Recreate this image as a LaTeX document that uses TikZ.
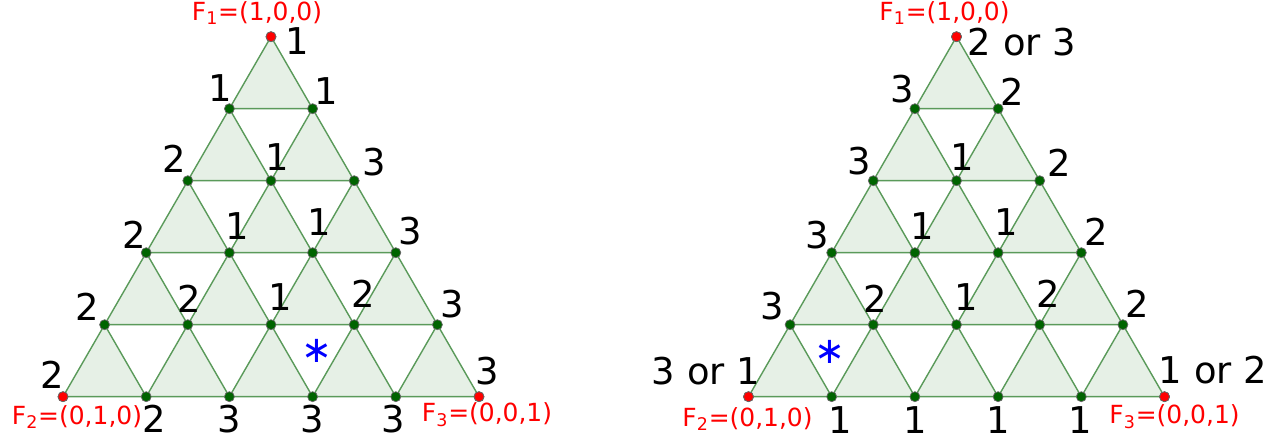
\documentclass[tikz,border=0pt]{standalone}
\usepackage{fontspec}
\setmainfont{DejaVu Sans}
\usepackage{tikz}
\usetikzlibrary{calc}
\definecolor{edgec}{HTML}{5A9A5A}
\definecolor{facec}{HTML}{E6F0E6}
\definecolor{nodec}{HTML}{006400}
\definecolor{footc}{HTML}{FF0000}
\definecolor{starc}{HTML}{0000FF}
\tikzset{
  tri/.style={draw=edgec,fill=facec,line width=0.8pt,line join=round},
  gdot/.style={fill=nodec,draw=black!60,line width=0.4pt},
  rdot/.style={fill=footc,draw=black!60,line width=0.4pt},
  num/.style={font=\fontsize{21}{24}\selectfont,inner sep=0pt},
  foot/.style={font=\fontsize{14.2}{16}\selectfont,text=footc,inner sep=0pt},
  mk/.style={font=\fontsize{21}{24}\selectfont,text=starc,inner sep=0pt}
}

\begin{document}
\begin{tikzpicture}[x=0.02cm,y=-0.02cm]
\useasboundingbox (0,0) rectangle (1277,442);
% lattice points of both triangles
\foreach \i in {0,...,5}
  \foreach \j in {0,...,\i}{
    \coordinate (L\i\j) at ({271-41.6*\i+83.2*\j},{36.7+72*\i});
    \coordinate (R\i\j) at ({956.5-41.6*\i+83.2*\j},{36.7+72*\i});
  }
% shaded upward cells
\foreach \i in {0,...,4}
  \foreach \j in {0,...,\i}{
    \pgfmathtruncatemacro\k{\i+1}
    \pgfmathtruncatemacro\m{\j+1}
    \draw[tri] (L\i\j)--(L\k\j)--(L\k\m)--cycle;
    \draw[tri] (R\i\j)--(R\k\j)--(R\k\m)--cycle;
  }
\foreach \p in {L,R}
  \foreach \i in {0,...,5}
    \foreach \j in {0,...,\i}
      \path[gdot] (\p\i\j) circle (5);
\foreach \c in {L00,L50,L55,R00,R50,R55}
  \path[rdot] (\c) circle (5);

% corner names
\node[foot] (fL1) at ([shift={(-14,-24)}]L00) {F\textsubscript{1}=(1,0,0)};
\node[foot] (fL2) at ([shift={(14,20)}]L50) {F\textsubscript{2}=(0,1,0)};
\node[foot] (fL3) at ([shift={(8,18)}]L55) {F\textsubscript{3}=(0,0,1)};
\node[foot] (fR1) at ([shift={(-12,-24)}]R00) {F\textsubscript{1}=(1,0,0)};
\node[foot] (fR2) at ([shift={(-1,22)}]R50) {F\textsubscript{2}=(0,1,0)};
\node[foot] (fR3) at ([shift={(10,20)}]R55) {F\textsubscript{3}=(0,0,1)};

% left labelling
\node[num] (nL00) at ([shift={(26,4)}]L00) {1};
\node[num] (nL10) at ([shift={(-9,-21)}]L10) {1};
\node[num] (nL11) at ([shift={(14,-18)}]L11) {1};
\node[num] (nL20) at ([shift={(-14,-22)}]L20) {2};
\node[num] (nL21) at ([shift={(6,-24)}]L21) {1};
\node[num] (nL22) at ([shift={(20,-19)}]L22) {3};
\node[num] (nL30) at ([shift={(-12,-18)}]L30) {2};
\node[num] (nL31) at ([shift={(8,-27)}]L31) {1};
\node[num] (nL32) at ([shift={(7,-31)}]L32) {1};
\node[num] (nL33) at ([shift={(14,-22)}]L33) {3};
\node[num] (nL40) at ([shift={(-17,-18)}]L40) {2};
\node[num] (nL41) at ([shift={(1,-26)}]L41) {2};
\node[num] (nL42) at ([shift={(9,-28)}]L42) {1};
\node[num] (nL43) at ([shift={(9,-31)}]L43) {2};
\node[num] (nL44) at ([shift={(15,-21)}]L44) {3};
\node[num] (nL50) at ([shift={(-11,-22)}]L50) {2};
\node[num] (nL51) at ([shift={(8,22)}]L51) {2};
\node[num] (nL52) at ([shift={(0,22)}]L52) {3};
\node[num] (nL53) at ([shift={(0,22)}]L53) {3};
\node[num] (nL54) at ([shift={(-3,22)}]L54) {3};
\node[num] (nL55) at ([shift={(8,-26)}]L55) {3};
\node[mk] (sL) at ([shift={(4,-46)}]L53) {∗};

% right labelling
\node[num] (nR00) at ([shift={(65.5,5)}]R00) {2 or 3};
\node[num] (nR10) at ([shift={(-13,-20)}]R10) {3};
\node[num] (nR11) at ([shift={(14,-17)}]R11) {2};
\node[num] (nR20) at ([shift={(-14,-20)}]R20) {3};
\node[num] (nR21) at ([shift={(5.5,-24)}]R21) {1};
\node[num] (nR22) at ([shift={(20,-18)}]R22) {2};
\node[num] (nR30) at ([shift={(-14,-18)}]R30) {3};
\node[num] (nR31) at ([shift={(7,-27)}]R31) {1};
\node[num] (nR32) at ([shift={(8,-31)}]R32) {1};
\node[num] (nR33) at ([shift={(15,-21)}]R33) {2};
\node[num] (nR40) at ([shift={(-18,-19)}]R40) {3};
\node[num] (nR41) at ([shift={(2,-26)}]R41) {2};
\node[num] (nR42) at ([shift={(9.5,-28)}]R42) {1};
\node[num] (nR43) at ([shift={(9,-31)}]R43) {2};
\node[num] (nR44) at ([shift={(14,-21)}]R44) {2};
\node[num] (nR50) at ([shift={(-42.5,-26)}]R50) {3 or 1};
\node[num] (nR51) at ([shift={(9,23)}]R51) {1};
\node[num] (nR52) at ([shift={(0,23)}]R52) {1};
\node[num] (nR53) at ([shift={(0,23)}]R53) {1};
\node[num] (nR54) at ([shift={(-1,23)}]R54) {1};
\node[num] (nR55) at ([shift={(48.5,-27)}]R55) {1 or 2};
\node[mk] (sR) at ([shift={(-2,-45)}]R51) {∗};
\end{tikzpicture}
\end{document}
